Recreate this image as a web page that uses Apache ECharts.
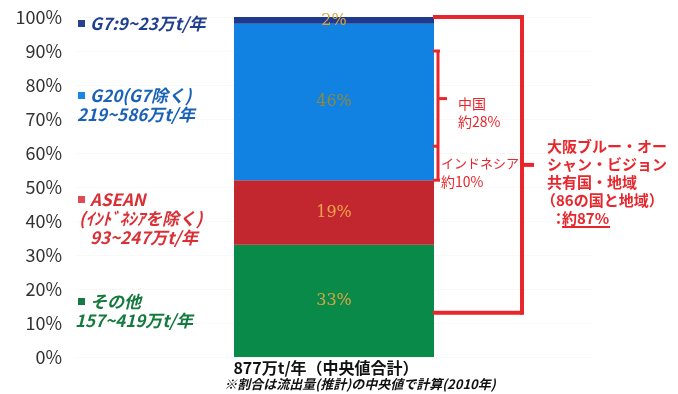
<!DOCTYPE html>
<html>
<head>
<meta charset="utf-8">
<script src="https://cdn.jsdelivr.net/npm/echarts@6/dist/echarts.min.js"></script>
<style>
  html, body { margin: 0; padding: 0; background: #fff; }
  #chart { width: 678px; height: 394px; }
</style>
</head>
<body>
<div id="chart"></div>
<script>
const categories = ['877万t/年（中央値合計）'];
const seriesNames = ['その他', 'ASEAN', 'G20', 'G7'];
const seriesValues = [[33], [19], [46], [2]];
const yTicks = [0, 10, 20, 30, 40, 50, 60, 70, 80, 90, 100];
// bracket ranges in %
const bigBracket = [13, 100];
const chinaRange = [90, 62];
const indonesiaRange = [62, 52];

const colors = ['#0a8a48', '#c2262e', '#1181e2', '#1c3a8e'];
const labelColors = ['#d9a444', '#f0a448', '#8d8a3e', '#d9a444'];
const FONT = '"Noto Sans CJK JP", "Noto Sans", sans-serif';

const chart = echarts.init(document.getElementById('chart'));

chart.setOption({
  animation: false,
  grid: { left: 76, right: 86, top: 17, bottom: 37 },
  xAxis: {
    type: 'category',
    data: categories,
    axisLine: { show: false },
    axisTick: { show: false },
    axisLabel: { color: '#111', fontSize: 16, fontWeight: 'bold', fontFamily: FONT, margin: 3, padding: [0, 16, 0, 0] }
  },
  yAxis: {
    type: 'value',
    min: yTicks[0],
    max: yTicks[yTicks.length - 1],
    interval: 10,
    axisLine: { show: false },
    axisTick: { show: false },
    splitLine: { lineStyle: { color: '#f2f2f2', type: 'dotted' } },
    axisLabel: { formatter: '{value}%', color: '#333', fontSize: 18, fontFamily: FONT, margin: 14 }
  },
  series: seriesValues.map((vals, i) => ({
    name: seriesNames[i],
    type: 'bar',
    stack: 'total',
    barWidth: 200,
    data: vals,
    itemStyle: { color: colors[i] },
    label: {
      show: true,
      position: 'inside',
      formatter: '{c}%',
      color: labelColors[i],
      fontSize: 16,
      fontFamily: 'DejaVu Serif, serif'
    }
  }))
});

const py = v => chart.convertToPixel({ yAxisIndex: 0 }, v);
const red = '#e8262b';
const lw = 4;

function line(x1, y1, x2, y2) {
  return { type: 'line', shape: { x1, y1, x2, y2 }, style: { stroke: red, lineWidth: lw }, z: 10 };
}
function text(x, y, t, fill, opts) {
  return {
    type: 'text', x, y,
    style: Object.assign({ text: t, fill, fontSize: 14, fontWeight: 'bold', fontFamily: FONT, textVerticalAlign: 'middle' }, opts || {}),
    z: 20
  };
}

const bTop = py(bigBracket[1]), bBot = py(bigBracket[0]);
const cTop = py(chinaRange[0]), cMid = py((chinaRange[0] + chinaRange[1]) / 2), iTop = py(indonesiaRange[0]), iBot = py(indonesiaRange[1]);

const legendItems = [
  { y: 24, color: '#1f3f8f', sq: '#27408f', lines: ['G7:9~23万t/年'], indent: [0] },
  { y: 96, color: '#1a62b8', sq: '#1786e4', lines: ['G20(G7除く)', '219~586万t/年'], indent: [0, -13] },
  { y: 200, color: '#da2f35', sq: '#e04a55', lines: ['ASEAN', '(ｲﾝﾄﾞﾈｼｱを除く)', '93~247万t/年'], indent: [0, -11, 0] },
  { y: 302, color: '#157a3e', sq: '#157a44', lines: ['その他', '157~419万t/年'], indent: [0, -15] }
];

const graphics = [];
legendItems.forEach(it => {
  graphics.push({ type: 'rect', shape: { x: 78, y: it.y - 4, width: 7, height: 7 }, style: { fill: it.sq }, z: 20 });
  it.lines.forEach((t, k) => {
    graphics.push(text(90 + it.indent[k], it.y + k * 19, t, it.color, { fontSize: 17, fontStyle: 'italic' }));
  });
});

// big bracket
graphics.push(line(433, bTop, 522, bTop));
graphics.push(line(522, bTop - lw / 2, 522, bBot + lw / 2));
graphics.push(line(433, bBot, 522, bBot));
graphics.push(line(522, py((bigBracket[0] + bigBracket[1]) / 2), 534, py((bigBracket[0] + bigBracket[1]) / 2)));

// small bracket (China / Indonesia)
const sw = 3;
const sline = (a, b, c, d) => { const l = line(a, b, c, d); l.style.lineWidth = sw; return l; };
graphics.push(sline(433, cTop, 440, cTop));
graphics.push(sline(438, cTop, 438, iBot));
graphics.push(sline(438, cMid, 447, cMid));
graphics.push(sline(433, iTop, 438, iTop));
graphics.push(sline(433, iBot, 440, iBot));

graphics.push(text(458, cMid + 5, '中国', red, { fontWeight: 'normal' }));
graphics.push(text(458, cMid + 23, '約28%', red, { fontWeight: 'normal' }));
graphics.push(text(441, iTop + 17, 'インドネシア', red, { fontWeight: 'normal', fontSize: 13 }));
graphics.push(text(441, iTop + 35, '約10%', red, { fontWeight: 'normal' }));

const rightLines = ['大阪ブルー・オー', 'シャン・ビジョン', '共有国・地域', '（86の国と地域）'];
rightLines.forEach((t, k) => {
  graphics.push(text(547 + (k === 3 ? -6 : 0), 146 + k * 18, t, red, { fontSize: 15 }));
});
graphics.push(text(551, 218, '：', red, { fontSize: 15 }));
graphics.push(text(562, 218, '約87%', red, { fontSize: 15 }));
graphics.push({ type: 'line', shape: { x1: 562, y1: 227, x2: 610, y2: 227 }, style: { stroke: red, lineWidth: 2 }, z: 20 });

// footnote
graphics.push(text(360, 384, '※割合は流出量(推計)の中央値で計算(2010年)', '#111', { fontSize: 13, fontStyle: 'italic', textAlign: 'center' }));

chart.setOption({ graphic: graphics });
</script>
</body>
</html>
